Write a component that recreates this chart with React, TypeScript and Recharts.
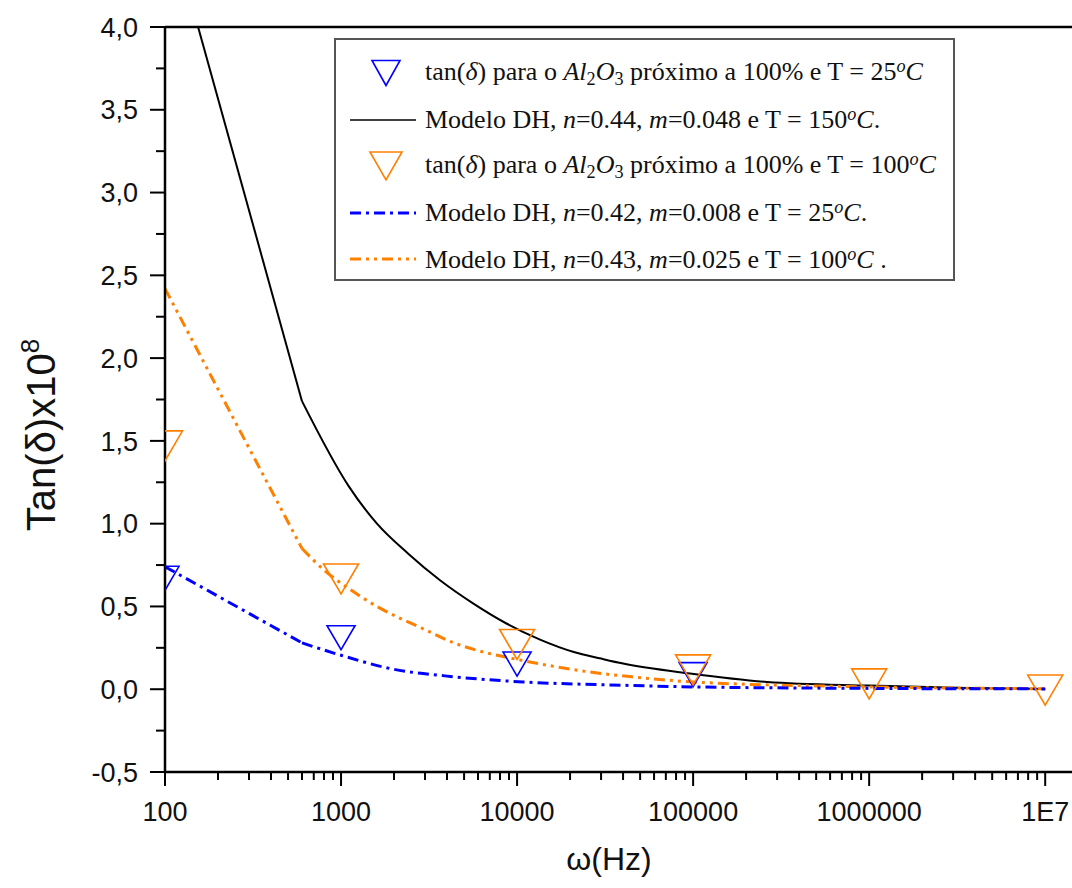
import React from "react";
import {
  ComposedChart,
  Legend,
  Line,
  ReferenceLine,
  Scatter,
  XAxis,
  YAxis,
} from "recharts";

// model curves (DH), frequency in Hz, tan(delta) x 1e8
const FREQ_DH150 = [100, 600, 1100, 1600, 2400, 3650, 5650, 8700, 13500, 21000, 30000, 40000, 96000, 263000, 1000000, 3600000, 10000000];
const DH150 = [4.72, 1.74, 1.23, 1.0, 0.82, 0.658, 0.517, 0.397, 0.3, 0.225, 0.185, 0.155, 0.095, 0.044, 0.022, 0.008, 0.002];

const FREQ_DH100 = [100, 600, 800, 1100, 1600, 2900, 4500, 7000, 10000, 16800, 30000, 46000, 100000, 1000000, 10000000];
const DH100 = [2.42, 0.85, 0.72, 0.61, 0.5, 0.367, 0.275, 0.215, 0.18, 0.135, 0.095, 0.074, 0.044, 0.014, 0.003];

const FREQ_DH25 = [100, 600, 1000, 1900, 4500, 10800, 40000, 100000, 1000000, 10000000];
const DH25 = [0.74, 0.28, 0.205, 0.125, 0.074, 0.044, 0.024, 0.014, 0.005, 0.002];

// measured points
const FREQ_T25 = [100, 1000, 10000, 100000];
const TAN_T25 = [0.67, 0.311, 0.152, 0.088];
const FREQ_T100 = [100, 1000, 10000, 100000, 1000000, 10000000];
const TAN_T100 = [1.47, 0.666, 0.27, 0.117, 0.032, -0.005];

const X_TICKS = [
  100, 200, 300, 400, 500, 600, 700, 800, 900,
  1000, 2000, 3000, 4000, 5000, 6000, 7000, 8000, 9000,
  10000, 20000, 30000, 40000, 50000, 60000, 70000, 80000, 90000,
  100000, 200000, 300000, 400000, 500000, 600000, 700000, 800000, 900000,
  1000000, 2000000, 3000000, 4000000, 5000000, 6000000, 7000000, 8000000, 9000000,
  10000000,
];
const X_LABELS: Record<number, string> = {
  100: "100",
  1000: "1000",
  10000: "10000",
  100000: "100000",
  1000000: "1000000",
  10000000: "1E7",
};
const Y_TICKS = [-0.5, -0.25, 0, 0.25, 0.5, 0.75, 1, 1.25, 1.5, 1.75, 2, 2.25, 2.5, 2.75, 3, 3.25, 3.5, 3.75, 4];

const BLUE = "#0000ff";
const ORANGE = "#ff8000";
const SANS = "'Liberation Sans', Arial, sans-serif";
const SERIF = "'Liberation Serif', 'Times New Roman', serif";

const zip = (fs: number[], vs: number[]) => fs.map((f, i) => ({ f, v: vs[i] }));

// the model curves are straight between the first two samples, smooth after
const head = (fs: number[], vs: number[]) => zip(fs, vs).slice(0, 2);
const tail = (fs: number[], vs: number[]) => zip(fs, vs).slice(1);

function XTick({ x, y, payload }: any) {
  const label = X_LABELS[payload.value];
  return (
    <g>
      <line x1={x} x2={x} y1={y} y2={y + (label ? 14 : 8)} stroke="#000" strokeWidth={2} />
      {label && (
        <text x={x} y={y + 49} textAnchor="middle" fontSize={27} fill="#111" fontFamily={SANS}>
          {label}
        </text>
      )}
    </g>
  );
}

function YTick({ x, y, payload }: any) {
  const v = payload.value as number;
  const major = Math.abs(v * 2 - Math.round(v * 2)) < 1e-6;
  return (
    <g>
      <line x1={x - (major ? 15 : 9)} x2={x} y1={y} y2={y} stroke="#000" strokeWidth={2} />
      {major && (
        <text x={x - 27} y={y} dy="0.36em" textAnchor="end" fontSize={27} fill="#111" fontFamily={SANS}>
          {v.toFixed(1).replace(".", ",")}
        </text>
      )}
    </g>
  );
}

function DownTri({ cx, cy, w, h, color }: { cx: number; cy: number; w: number; h: number; color: string }) {
  if (cx == null || cy == null) return null;
  const pts = `${cx - w / 2},${cy - h / 2} ${cx + w / 2},${cy - h / 2} ${cx},${cy + h / 2}`;
  return <polygon points={pts} fill="none" stroke={color} strokeWidth={1.6} />;
}

function LegendSymbol({ kind, color, dash }: { kind: "tri" | "line"; color: string; dash?: string }) {
  return (
    <svg width={80} height={34} style={{ display: "block", flex: "none" }}>
      {kind === "tri" ? (
        <DownTri cx={46} cy={17} w={color === BLUE ? 28 : 32} h={color === BLUE ? 25 : 28} color={color} />
      ) : (
        <line x1={10} x2={76} y1={17} y2={17} stroke={color} strokeWidth={dash ? 3 : 1.5} strokeDasharray={dash} />
      )}
    </svg>
  );
}

const DASH_25 = "11 5 3 5";
const DASH_100 = "11 5 3 5 3 5";

function LegendBox() {
  const row: React.CSSProperties = { display: "flex", alignItems: "center", height: 46.5 };
  const txt: React.CSSProperties = { marginLeft: 5, whiteSpace: "nowrap" };
  const sub: React.CSSProperties = { fontSize: "0.7em", verticalAlign: "-0.25em" };
  const sup: React.CSSProperties = { fontSize: "0.7em", verticalAlign: "0.45em", fontStyle: "italic" };
  return (
    <div
      style={{
        boxSizing: "border-box",
        width: 621,
        height: 243,
        border: "2px solid #555",
        background: "#fff",
        fontFamily: SERIF,
        fontSize: 26,
        color: "#111",
        paddingTop: 10,
        paddingLeft: 4,
      }}
    >
      <div style={row}>
        <LegendSymbol kind="tri" color={BLUE} />
        <span style={txt}>
          tan(<i>δ</i>) para o <i>Al</i><span style={sub}>2</span><i>O</i><span style={sub}>3</span> próximo a 100% e T = 25<span style={sup}>o</span><i>C</i>
        </span>
      </div>
      <div style={row}>
        <LegendSymbol kind="line" color="#000" />
        <span style={txt}>
          Modelo DH, <i>n</i>=0.44, <i>m</i>=0.048 e T = 150<span style={sup}>o</span><i>C</i>.
        </span>
      </div>
      <div style={row}>
        <LegendSymbol kind="tri" color={ORANGE} />
        <span style={txt}>
          tan(<i>δ</i>) para o <i>Al</i><span style={sub}>2</span><i>O</i><span style={sub}>3</span> próximo a 100% e T = 100<span style={sup}>o</span><i>C</i>
        </span>
      </div>
      <div style={row}>
        <LegendSymbol kind="line" color={BLUE} dash={DASH_25} />
        <span style={txt}>
          Modelo DH, <i>n</i>=0.42, <i>m</i>=0.008 e T = 25<span style={sup}>o</span><i>C</i>.
        </span>
      </div>
      <div style={row}>
        <LegendSymbol kind="line" color={ORANGE} dash={DASH_100} />
        <span style={txt}>
          Modelo DH, <i>n</i>=0.43, <i>m</i>=0.025 e T = 100<span style={sup}>o</span><i>C</i> .
        </span>
      </div>
    </div>
  );
}

function modelLines(fs: number[], vs: number[], color: string, width: number, dash?: string) {
  const common = {
    dataKey: "v",
    stroke: color,
    strokeWidth: width,
    strokeDasharray: dash,
    dot: false,
    isAnimationActive: false,
    legendType: "none" as const,
  };
  return [
    <Line key={color + "-head"} data={head(fs, vs)} type="linear" {...common} />,
    <Line key={color + "-tail"} data={tail(fs, vs)} type="monotone" {...common} />,
  ];
}

export default function App() {
  return (
    <div style={{ position: "absolute", left: 0, top: 0, width: 1072, height: 888, background: "#fff", fontFamily: SANS }}>
      <ComposedChart width={1072} height={888} margin={{ top: 27, right: 0, bottom: 0, left: 0 }}>
        <XAxis
          dataKey="f"
          type="number"
          scale="log"
          domain={[100, 14200000]}
          allowDataOverflow
          ticks={X_TICKS}
          interval={0}
          tick={<XTick />}
          tickLine={false}
          tickSize={0}
          tickMargin={0}
          height={116}
          axisLine={{ stroke: "#000", strokeWidth: 2.5 }}
          label={{
            content: () => (
              <text x={609} y={870} textAnchor="middle" fontSize={32} fill="#111" fontFamily={SANS}>
                ω(Hz)
              </text>
            ),
          }}
        />
        <YAxis
          type="number"
          domain={[-0.5, 4]}
          allowDataOverflow
          ticks={Y_TICKS}
          interval={0}
          tick={<YTick />}
          tickLine={false}
          tickSize={0}
          tickMargin={0}
          width={165}
          axisLine={{ stroke: "#000", strokeWidth: 2.5 }}
          label={{
            content: () => (
              <text
                x={0}
                y={0}
                transform="translate(55,435) rotate(-90)"
                textAnchor="middle"
                fontSize={40}
                fill="#111"
                fontFamily={SANS}
              >
                Tan(δ)x10
                <tspan dy={-16} fontSize={26}>8</tspan>
              </text>
            ),
          }}
        />
        <ReferenceLine y={4} stroke="#000" strokeWidth={2.5} />
        {modelLines(FREQ_DH150, DH150, "#000", 2)}
        {modelLines(FREQ_DH100, DH100, ORANGE, 3, DASH_100)}
        {modelLines(FREQ_DH25, DH25, BLUE, 3, DASH_25)}
        <Scatter
          data={zip(FREQ_T25, TAN_T25)}
          dataKey="v"
          isAnimationActive={false}
          shape={(p: any) => <DownTri cx={p.cx} cy={p.cy} w={28} h={24} color={BLUE} />}
        />
        <Scatter
          data={zip(FREQ_T100, TAN_T100)}
          dataKey="v"
          isAnimationActive={false}
          shape={(p: any) => <DownTri cx={p.cx} cy={p.cy} w={35} h={30} color={ORANGE} />}
        />
        <Legend
          layout="horizontal"
          verticalAlign="middle"
          align="center"
          wrapperStyle={{ left: 334, top: 38, width: 621, height: 243, right: "auto", bottom: "auto" }}
          content={() => <LegendBox />}
        />
      </ComposedChart>
    </div>
  );
}
